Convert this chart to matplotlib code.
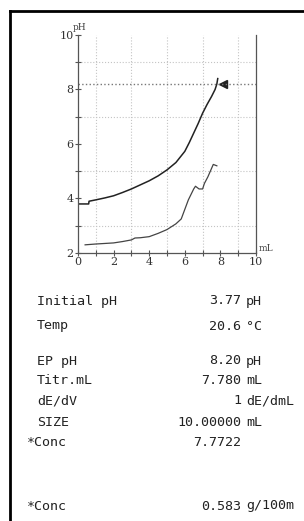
import numpy as np
import matplotlib
matplotlib.use("Agg")
import matplotlib.pyplot as plt
from matplotlib.lines import Line2D

# titration curve (pH vs mL)
ph_x = [0, 0.6, 0.62, 1.0, 1.5, 2.0, 2.5, 3.0, 3.5, 4.0, 4.5, 5.0, 5.5, 6.0,
        6.25, 6.5, 6.75, 7.0, 7.25, 7.5, 7.7, 7.8, 7.85]
ph_y = [3.8, 3.8, 3.9, 3.95, 4.02, 4.1, 4.22, 4.35, 4.5, 4.65, 4.83, 5.05, 5.32, 5.73,
        6.05, 6.4, 6.75, 7.13, 7.45, 7.74, 8.0, 8.2, 8.4]

# derivative curve (dE/dV, drawn on the same scale)
dv_x = [0.4, 1.0, 2.0, 2.5, 3.0, 3.2, 3.5, 4.0, 4.5, 5.0, 5.5, 5.8, 6.0, 6.2,
        6.5, 6.6, 6.8, 7.0, 7.1, 7.3, 7.6, 7.8]
dv_y = [2.3, 2.33, 2.37, 2.42, 2.48, 2.55, 2.56, 2.6, 2.72, 2.86, 3.07, 3.25, 3.6, 3.95,
        4.35, 4.45, 4.35, 4.35, 4.55, 4.8, 5.25, 5.2]

ep_ml = 8.15
ep_ph = 8.2

labels = ["Initial pH", "Temp", "EP pH", "Titr.mL", "dE/dV", "SIZE", "*Conc", "*Conc"]
values = ["3.77", "20.6", "8.20", "7.780", "1", "10.00000", "7.7722", "0.583"]
units = ["pH", "°C", "pH", "mL", "dE/dmL", "mL", "", "g/100m"]
rows_y = [301, 326, 361, 381, 401, 422, 442, 506]
labels_x = [37, 37, 37, 37, 37, 37, 27, 27]

W, H = 304, 521
fig = plt.figure(figsize=(W / 100, H / 100), dpi=100)
fig.patch.set_facecolor("white")

ax = fig.add_axes([78 / W, 1 - 253 / H, (256 - 78) / W, (253 - 35) / H])
ax.plot(ph_x, ph_y, color="#222222", lw=1.1)
ax.plot(dv_x, dv_y, color="#444444", lw=0.9)
ax.plot([ep_ml], [ep_ph], marker="<", color="#222222", ms=6)
ax.axhline(ep_ph, color="#777777", ls=":", lw=1.0)

ax.set_xlim(0, 10)
ax.set_ylim(2, 10)
ax.set_xticks(np.arange(0, 11, 2))
ax.set_yticks(np.arange(2, 11, 2))
ax.set_xticks(np.arange(0, 11, 1), minor=True)
ax.set_yticks(np.arange(2, 11, 1), minor=True)
ax.grid(which="minor", color="#c4c4c4", ls=":", lw=0.8)
ax.tick_params(which="both", direction="inout", length=4, width=0.8, color="#555555",
               labelsize=8, labelcolor="#333333", pad=1)
for lab in ax.get_xticklabels() + ax.get_yticklabels():
    lab.set_family("DejaVu Serif")
ax.spines["top"].set_visible(False)
for s in ["left", "right", "bottom"]:
    ax.spines[s].set_color("#555555")
    ax.spines[s].set_linewidth(0.9)

fig.text(73 / W, 1 - 27 / H, "pH", family="DejaVu Serif", fontsize=6.5, color="#444444",
         va="center", ha="left")
fig.text(259 / W, 1 - 249 / H, "mL", family="DejaVu Serif", fontsize=6.5, color="#444444",
         va="center", ha="left")

# result table
for lab, val, unit, ry, lx in zip(labels, values, units, rows_y, labels_x):
    yy = 1 - ry / H
    fig.text(lx / W, yy, lab, family="DejaVu Sans Mono", fontsize=9.6, color="#222222",
             va="center", ha="left")
    fig.text(241 / W, yy, val, family="DejaVu Sans Mono", fontsize=9.6, color="#222222",
             va="center", ha="right")
    fig.text(246 / W, yy, unit, family="DejaVu Sans Mono", fontsize=9.6, color="#222222",
             va="center", ha="left")

# frame
fig.add_artist(Line2D([10 / W, 1], [1 - 11 / H, 1 - 11 / H], transform=fig.transFigure,
                      color="black", lw=2))
fig.add_artist(Line2D([10 / W, 10 / W], [0, 1 - 11 / H], transform=fig.transFigure,
                      color="black", lw=2))

fig.savefig("out.png", dpi=100)
